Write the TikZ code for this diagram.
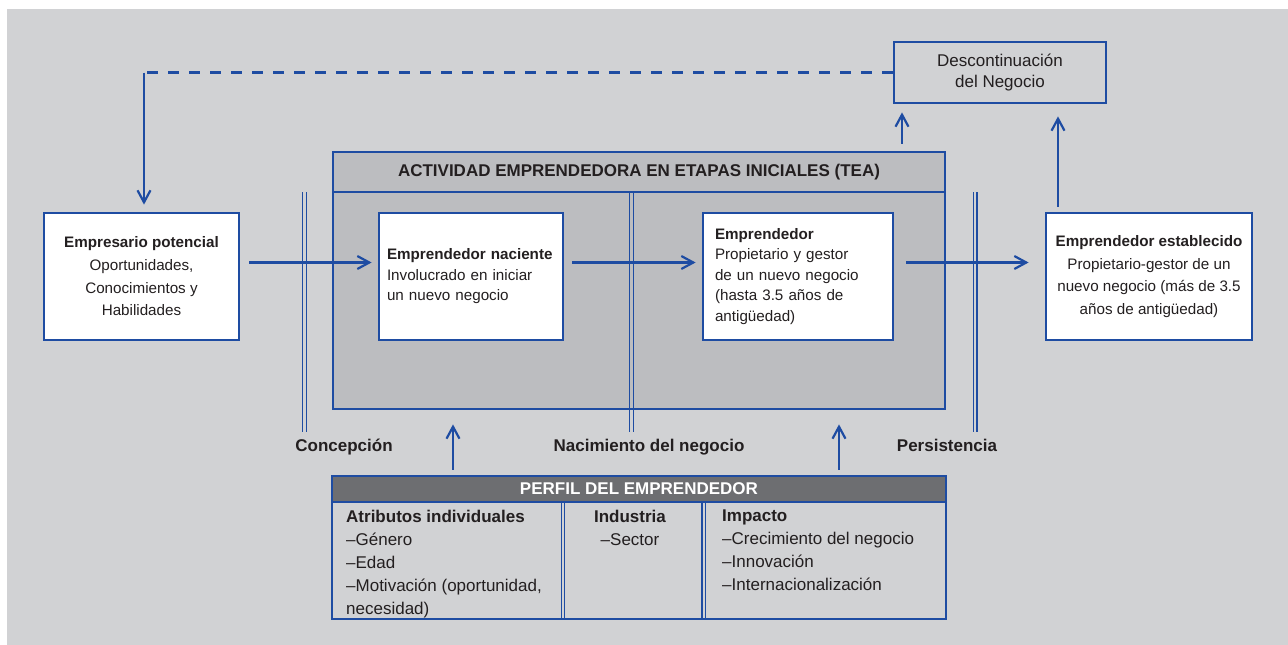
\documentclass[tikz,border=0pt]{standalone}
\usepackage{fontspec}
\setmainfont{Liberation Sans}
\usetikzlibrary{positioning}
\usetikzlibrary{arrows.meta, positioning}
\definecolor{gemblue}{RGB}{30,76,162}
\definecolor{bggray}{RGB}{209,210,212}
\definecolor{teagray}{RGB}{188,189,192}
\definecolor{headgray}{RGB}{109,110,113}
\definecolor{ink}{RGB}{35,31,32}
\tikzstyle{arrow} = [line width=2.2pt, draw=gemblue, -{Straight Barb[length=12pt,width=13pt]}]
\tikzstyle{entbox} = [draw=gemblue, line width=2.8pt, fill=white, text=ink, minimum height=127pt, font=\fontsize{15.2}{22.7}\selectfont]
\tikzstyle{teabox} = [draw=gemblue, line width=2.8pt, fill=teagray, text=ink]
\tikzstyle{stage} = [text=ink, anchor=base, font=\bfseries\fontsize{17}{20}\selectfont]
\tikzstyle{sepline} = [draw=gemblue, line width=1.2pt]
\tikzstyle{coltext} = [text=ink, inner sep=0pt, font=\fontsize{17}{23}\selectfont]

\begin{document}
\begin{tikzpicture}[x=1pt, y=-1pt]
    \useasboundingbox (0,0) rectangle (1288,645);
    \fill[bggray] (7,9) rectangle (1288,645);

    % TEA block (header and body)
    \node[teabox, minimum width=612pt, minimum height=217pt] (teabody) at (639,300.5) {};
    \node[teabox, minimum width=612pt, minimum height=40pt, font=\bfseries\fontsize{17}{20}\selectfont] (teahead) at (639,172) {ACTIVIDAD EMPRENDEDORA EN ETAPAS INICIALES (TEA)};

    % Stage separators (double lines)
    \foreach \x in {304.4, 631.4, 975.3} {
        \draw[sepline] (\x-1.7,192) -- (\x-1.7,432);
        \draw[sepline] (\x+1.7,192) -- (\x+1.7,432);
    }

    % Entrepreneur boxes
    \node[entbox, minimum width=195pt, align=center] (potencial) at (141.5,276.5) {\textbf{Empresario potencial}\\Oportunidades,\\Conocimientos y\\Habilidades};
    \node[entbox, text width=168pt, inner xsep=8pt, align=left, font=\fontsize{15.2}{20.5}\selectfont] (naciente) at (471,276.5) {\textbf{Emprendedor naciente}\\Involucrado en iniciar\\un nuevo negocio};
    \node[entbox, text width=166pt, inner xsep=12pt, align=left, font=\fontsize{15.2}{20.5}\selectfont] (emprendedor) at (798,276.5) {\textbf{Emprendedor}\\Propietario y gestor\\de un nuevo negocio\\(hasta 3.5 años de\\antigüedad)};
    \node[entbox, minimum width=206pt, align=center] (establecido) at (1149,276.5) {\textbf{Emprendedor establecido}\\Propietario-gestor de un\\nuevo negocio (más de 3.5\\años de antigüedad)};
    \node[draw=gemblue, line width=2.8pt, minimum width=212pt, minimum height=61pt, align=center, text=ink, font=\fontsize{17}{21}\selectfont] (desc) at (1000,72.5) {Descontinuación\\del Negocio};

    % Stage labels
    \node[stage] (concepcion) at (344,451) {Concepción};
    \node[stage] (nacimiento) at (649,451) {Nacimiento del negocio};
    \node[stage] (persistencia) at (947,451) {Persistencia};

    % Perfil del emprendedor
    \node[teabox, fill=headgray, text=white, minimum width=614pt, minimum height=26pt, font=\bfseries\fontsize{17}{20}\selectfont] (perfilhead) at (639,489) {PERFIL DEL EMPRENDEDOR};
    \node[teabox, fill=none, minimum width=614pt, minimum height=117pt] (perfil) at (639,560.5) {};
    \foreach \x in {563, 703.6} {
        \draw[sepline] (\x-1.7,502) -- (\x-1.7,619);
        \draw[sepline] (\x+1.7,502) -- (\x+1.7,619);
    }
    \node[coltext, anchor=north west, align=left] (atributos) at (346,510) {\textbf{Atributos individuales}\\–Género\\–Edad\\–Motivación (oportunidad,\\necesidad)};
    \node[coltext, anchor=north, align=center] (industria) at (630,510) {\textbf{Industria}\\–Sector};
    \node[coltext, anchor=north west, align=left] (impacto) at (722,510) {\textbf{Impacto}\\–Crecimiento del negocio\\–Innovación\\–Internacionalización};

    % Flow arrows
    \draw[arrow, shorten <=9pt, shorten >=6pt] ([yshift=14pt]potencial.east) -- ([yshift=14pt]naciente.west);
    \draw[arrow, shorten <=8pt, shorten >=6pt] ([yshift=14pt]naciente.east) -- ([yshift=14pt]emprendedor.west);
    \draw[arrow, shorten <=12pt, shorten >=16pt] ([yshift=14pt]emprendedor.east) -- ([yshift=14pt]establecido.west);
    \draw[arrow, shorten <=5pt, shorten >=14pt] ([xshift=-186pt]perfilhead.north) -- ([xshift=-186pt]teabody.south);
    \draw[arrow, shorten <=5pt, shorten >=14pt] ([xshift=200pt]perfilhead.north) -- ([xshift=200pt]teabody.south);
    \draw[arrow, shorten <=7pt, shorten >=8pt] ([xshift=263pt]teahead.north) -- ([xshift=-98pt]desc.south);
    \draw[arrow, shorten <=5pt, shorten >=12pt] ([xshift=-91pt]establecido.north) -- ([xshift=58pt]desc.south);

    % Feedback to potential entrepreneur
    \coordinate (fb) at (144,72.5);
    \draw[gemblue, line width=2.2pt, dash pattern=on 11pt off 10pt] (desc.west) -- (fb);
    \draw[arrow, shorten >=7pt] (fb) -- (fb |- potencial.north);
\end{tikzpicture}
\end{document}
